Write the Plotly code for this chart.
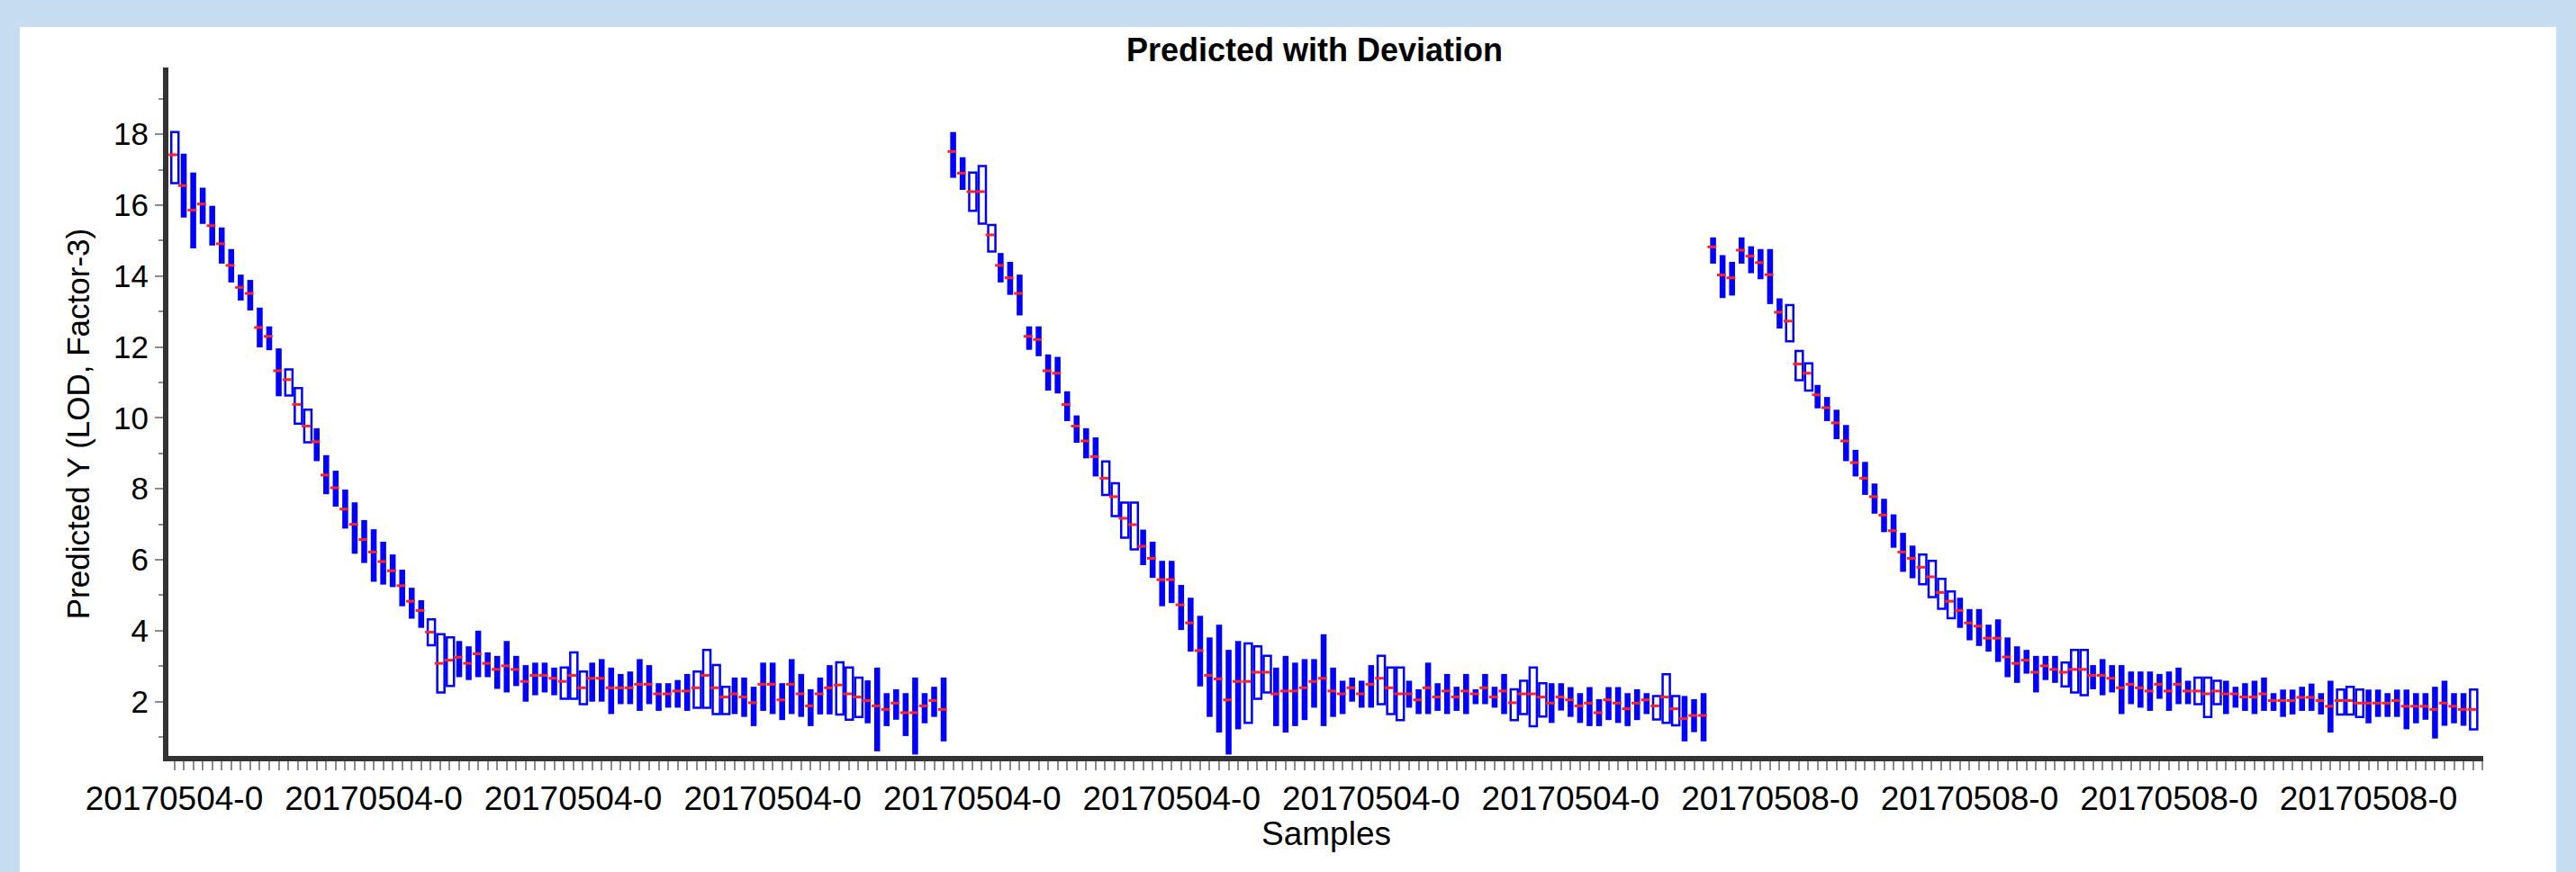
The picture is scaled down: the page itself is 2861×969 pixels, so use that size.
import plotly.graph_objects as go

# ---------------- data ----------------
high = [
    18.06, 17.45, 16.92, 16.49, 15.98, 15.37, 14.76, 14.04, 13.89, 13.11,
    12.58, 11.96, 11.37, 10.84, 10.23, 9.71, 8.95, 8.51, 7.98, 7.62,
    7.12, 6.86, 6.51, 6.15, 5.72, 5.21, 4.86, 4.32, 3.90, 3.81,
    3.71, 3.56, 4.00, 3.39, 3.29, 3.71, 3.29, 3.03, 3.10, 3.10,
    2.96, 2.96, 3.39, 2.85, 3.10, 3.20, 2.96, 2.78, 2.85, 3.20,
    3.03, 2.52, 2.52, 2.61, 2.78, 2.85, 3.46, 3.03, 2.42, 2.68,
    2.68, 2.42, 3.10, 3.10, 2.52, 3.20, 2.78, 2.35, 2.68, 3.03,
    3.11, 2.96, 2.68, 2.60, 2.96, 2.24, 2.35, 2.24, 2.68, 2.24,
    2.42, 2.68,
    18.06, 17.35, 16.92, 17.10, 15.44, 14.65, 14.40, 14.04, 12.58, 12.58,
    11.79, 11.72, 10.75, 10.07, 9.71, 9.45, 8.77, 8.16, 7.61, 7.61,
    6.85, 6.51, 5.97, 5.97, 5.29, 4.93, 4.42, 3.81, 4.17, 3.46,
    3.71, 3.64, 3.56, 3.29, 2.96, 3.29, 3.10, 3.20, 3.20, 3.90,
    2.96, 2.59, 2.68, 2.59, 3.03, 3.29, 2.96, 2.96, 2.59, 2.35,
    3.10, 2.52, 2.78, 2.42, 2.78, 2.35, 2.78, 2.42, 2.78, 2.35,
    2.59, 2.96, 2.52, 2.52, 2.52, 2.41, 2.24, 2.41, 2.07, 2.41,
    2.41, 2.24, 2.35, 2.24, 2.16, 2.77, 2.16, 2.16, 2.07, 2.24,
    15.09, 14.59, 14.40, 15.09, 14.84, 14.76, 14.76, 13.37, 13.18, 11.89,
    11.54, 10.93, 10.59, 10.23, 9.80, 9.10, 8.76, 8.15, 7.72, 7.28,
    6.76, 6.40, 6.15, 5.97, 5.46, 5.11, 4.93, 4.61, 4.61, 4.17,
    4.32, 3.81, 3.56, 3.46, 3.29, 3.29, 3.29, 3.10, 3.46, 3.46,
    3.03, 3.20, 3.03, 3.03, 2.85, 2.85, 2.85, 2.78, 2.85, 2.96,
    2.59, 2.68, 2.68, 2.59, 2.59, 2.42, 2.52, 2.59, 2.68, 2.24,
    2.34, 2.34, 2.42, 2.51, 2.24, 2.59, 2.34, 2.42, 2.34, 2.34,
    2.34, 2.24, 2.34, 2.34, 2.24, 2.24, 2.42, 2.59, 2.24, 2.24,
    2.34,
]

low = [
    16.62, 15.65, 14.78, 15.47, 14.86, 14.35, 13.82, 13.31, 13.03, 11.99,
    11.91, 10.61, 10.63, 9.84, 9.31, 8.78, 7.85, 7.50, 6.88, 6.17,
    5.91, 5.38, 5.30, 5.23, 4.69, 4.34, 4.08, 3.59, 2.26, 2.44,
    2.69, 2.61, 2.69, 2.69, 2.36, 2.26, 2.44, 2.00, 2.18, 2.26,
    2.18, 2.08, 2.08, 1.93, 2.00, 2.00, 1.65, 1.93, 1.93, 1.74,
    1.93, 1.74, 1.83, 1.83, 1.74, 1.83, 1.83, 1.65, 1.65, 1.65,
    1.57, 1.31, 1.74, 1.65, 1.48, 1.65, 1.57, 1.31, 1.64, 1.64,
    1.64, 1.49, 1.57, 1.39, 0.60, 1.31, 1.49, 1.03, 0.51, 1.39,
    1.57, 0.88,
    16.77, 16.43, 15.84, 15.48, 14.69, 13.82, 13.47, 12.89, 11.92, 11.74,
    10.77, 10.69, 9.91, 9.30, 8.86, 8.35, 7.83, 7.23, 6.62, 6.29,
    5.85, 5.49, 4.69, 4.78, 4.02, 3.41, 2.43, 1.57, 1.13, 0.51,
    1.22, 1.40, 2.08, 2.26, 1.31, 1.13, 1.31, 1.48, 1.83, 1.31,
    1.57, 1.65, 2.00, 1.83, 1.83, 1.93, 1.65, 1.48, 1.83, 1.65,
    1.65, 1.74, 1.65, 1.74, 1.65, 1.93, 1.93, 1.83, 1.65, 1.48,
    1.65, 1.31, 1.58, 1.40, 1.75, 1.57, 1.40, 1.31, 1.31, 1.48,
    1.40, 1.31, 1.48, 1.65, 1.50, 1.40, 1.33, 0.88, 1.14, 0.88,
    14.35, 13.38, 13.45, 14.35, 14.08, 13.91, 13.21, 12.52, 12.16, 11.06,
    10.77, 10.27, 9.91, 9.40, 8.78, 8.35, 7.83, 7.30, 6.78, 6.34,
    5.66, 5.48, 5.31, 4.95, 4.62, 4.35, 4.08, 3.73, 3.57, 3.41,
    3.12, 2.69, 2.53, 2.79, 2.26, 2.61, 2.53, 2.43, 2.26, 2.18,
    2.35, 2.18, 2.26, 1.65, 1.93, 1.83, 1.74, 2.08, 1.74, 1.93,
    1.93, 1.93, 1.57, 1.93, 1.65, 1.83, 1.74, 1.65, 1.74, 1.74,
    1.57, 1.64, 1.74, 1.74, 1.64, 1.13, 1.64, 1.64, 1.57, 1.39,
    1.57, 1.57, 1.57, 1.22, 1.39, 1.49, 0.96, 1.32, 1.39, 1.32,
    1.22,
]

pred = [
    17.42, 16.55, 15.86, 16.03, 15.42, 14.91, 14.30, 13.68, 13.51, 12.55,
    12.30, 11.33, 11.08, 10.38, 9.77, 9.33, 8.39, 8.03, 7.43, 7.00,
    6.57, 6.22, 5.95, 5.69, 5.27, 4.83, 4.57, 3.96, 3.08, 3.17,
    3.25, 3.08, 3.35, 3.08, 2.91, 3.01, 2.91, 2.57, 2.74, 2.74,
    2.66, 2.57, 2.74, 2.39, 2.66, 2.66, 2.39, 2.39, 2.39, 2.49,
    2.49, 2.22, 2.22, 2.30, 2.30, 2.39, 2.74, 2.39, 2.13, 2.22,
    2.13, 1.97, 2.49, 2.49, 2.05, 2.49, 2.22, 1.88, 2.22, 2.39,
    2.47, 2.22, 2.13, 2.03, 1.88, 1.78, 1.96, 1.69, 1.69, 1.88,
    2.03, 1.78,
    17.51, 16.90, 16.38, 16.38, 15.16, 14.30, 13.95, 13.51, 12.30, 12.21,
    11.33, 11.26, 10.38, 9.77, 9.35, 8.91, 8.30, 7.78, 7.17, 6.99,
    6.38, 6.04, 5.44, 5.44, 4.73, 4.22, 3.44, 2.74, 2.64, 2.05,
    2.57, 2.57, 2.83, 2.83, 2.22, 2.30, 2.30, 2.39, 2.57, 2.66,
    2.30, 2.22, 2.39, 2.22, 2.49, 2.66, 2.39, 2.22, 2.22, 2.05,
    2.39, 2.13, 2.30, 2.13, 2.30, 2.22, 2.39, 2.13, 2.30, 1.97,
    2.22, 2.22, 2.13, 1.96, 2.13, 2.05, 1.88, 1.96, 1.69, 2.05,
    1.96, 1.80, 1.96, 2.05, 1.88, 2.13, 1.80, 1.52, 1.61, 1.61,
    14.82, 14.03, 13.95, 14.73, 14.56, 14.38, 14.04, 12.98, 12.73, 11.52,
    11.26, 10.65, 10.29, 9.86, 9.35, 8.74, 8.30, 7.78, 7.26, 6.82,
    6.22, 6.04, 5.79, 5.52, 5.08, 4.83, 4.57, 4.22, 4.13, 3.79,
    3.79, 3.26, 3.08, 3.17, 2.83, 3.01, 2.91, 2.83, 2.91, 2.91,
    2.74, 2.74, 2.66, 2.39, 2.49, 2.39, 2.30, 2.49, 2.30, 2.49,
    2.30, 2.30, 2.22, 2.30, 2.22, 2.22, 2.13, 2.13, 2.22, 2.03,
    2.03, 2.03, 2.12, 2.12, 2.03, 1.87, 2.03, 2.03, 1.96, 1.96,
    1.96, 1.96, 2.03, 1.87, 1.87, 1.87, 1.78, 1.96, 1.87, 1.78,
    1.78,
]

hollow_samples = [1, 13, 14, 15, 28, 29, 30, 42, 43, 44, 56, 57, 58, 59,
                  71, 72, 73, 85, 86, 87, 99, 100, 101, 102, 114, 115, 116,
                  128, 129, 130, 142, 143, 144, 145, 157, 158, 159,
                  171, 172, 173, 185, 186, 187, 188, 200, 201, 202,
                  214, 215, 216, 229, 230, 231, 243]

tick_samples = [1, 22, 43, 64, 85, 106, 127, 148, 169, 190, 211, 232]
tick_text = ["20170504-0"] * 8 + ["20170508-0"] * 4

y_major = [2, 4, 6, 8, 10, 12, 14, 16, 18]

# ---------------- build ----------------
samples = list(range(1, len(pred) + 1))
hs = set(hollow_samples)
fx, fb, fh, hx, hb, hh = [], [], [], [], [], []
for s, hi, lo in zip(samples, high, low):
    if s in hs:
        hx.append(s); hb.append(lo); hh.append(hi - lo)
    else:
        fx.append(s); fb.append(lo); fh.append(hi - lo)

BLUE = "#0000FF"
fig = go.Figure()
fig.add_trace(go.Bar(x=fx, y=fh, base=fb, width=0.62, offset=-0.31,
                     marker=dict(color=BLUE, line=dict(width=0)),
                     hoverinfo="skip"))
fig.add_trace(go.Bar(x=hx, y=hh, base=hb, width=0.76, offset=-0.31,
                     marker=dict(color="white", line=dict(color=BLUE, width=2.5)),
                     hoverinfo="skip"))
fig.add_trace(go.Scatter(x=[s - 0.12 for s in samples], y=pred, mode="markers",
                         marker=dict(symbol="line-ew", size=7,
                                     line=dict(color="#FF2222", width=3)),
                         hoverinfo="skip"))

FONT = "Liberation Sans, Arial, sans-serif"
fig.update_layout(
    width=2861, height=969,
    margin=dict(l=187, r=103, t=75, b=129),
    paper_bgcolor="#C6DCF0", plot_bgcolor="white",
    barmode="overlay", showlegend=False,
    font=dict(family=FONT, color="black", size=35),
    title=dict(text="<b>Predicted with Deviation</b>", xref="container", x=0.5103,
               xanchor="center", yref="container", y=0.9432, yanchor="middle",
               font=dict(family=FONT, size=36, color="black")),
    shapes=[dict(type="rect", xref="paper", yref="paper", layer="below",
                 x0=-0.0642, x1=1.0315, y0=-0.1686, y1=1.0588,
                 fillcolor="white", line=dict(width=0))],
    annotations=[
        dict(text="Predicted Y (LOD, Factor-3)", xref="paper", yref="paper",
             x=-0.0393, y=0.482, textangle=-90, showarrow=False,
             xanchor="center", yanchor="middle", font=dict(size=35, family=FONT)),
        dict(text="Samples", xref="paper", yref="paper", x=0.5, y=-0.1137,
             showarrow=False, xanchor="center", yanchor="middle",
             font=dict(size=37, family=FONT)),
    ],
)
fig.update_xaxes(range=[0.384, 244.08], showline=True, linecolor="#333333", linewidth=6,
                 ticks="outside", ticklen=10, tickwidth=2, tickcolor="#8c8c8c",
                 tickmode="array", tickvals=tick_samples, ticktext=tick_text,
                 tickfont=dict(size=37, family=FONT, color="black"),
                 showgrid=False, zeroline=False,
                 minor=dict(tickmode="linear", tick0=1, dtick=1, ticks="outside",
                            ticklen=10, tickwidth=2, tickcolor="#8c8c8c", showgrid=False))
fig.update_yaxes(range=[0.47, 19.88], showline=True, linecolor="#333333", linewidth=6,
                 ticks="outside", ticklen=9, tickwidth=2, tickcolor="#8c8c8c",
                 tickmode="array", tickvals=y_major,
                 tickfont=dict(size=35, family=FONT, color="black"),
                 showgrid=False, zeroline=False,
                 minor=dict(tickmode="linear", tick0=1, dtick=1, ticks="outside",
                            ticklen=5, tickwidth=2, tickcolor="#8c8c8c", showgrid=False))

fig.write_html("out.html")
